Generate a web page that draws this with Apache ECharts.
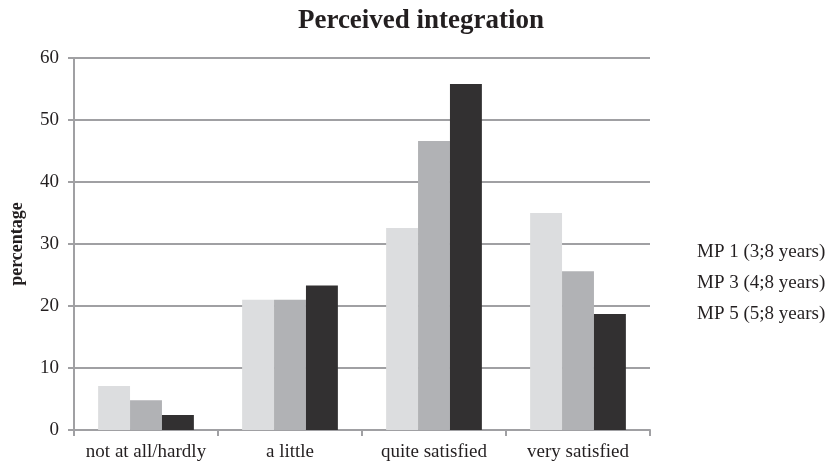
<!DOCTYPE html>
<html>
<head>
<meta charset="utf-8">
<script src="https://cdn.jsdelivr.net/npm/echarts@6/dist/echarts.min.js"></script>
<style>
  html, body { margin: 0; padding: 0; background: #fff; }
  #chart { width: 832px; height: 464px; }
</style>
</head>
<body>
<div id="chart"></div>
<script>
const categories = ['not at all/hardly', 'a little', 'quite satisfied', 'very satisfied'];
const seriesNames = ['MP 1 (3;8 years)', 'MP 3 (4;8 years)', 'MP 5 (5;8 years)'];
const mp1 = [7.1, 21.0, 32.6, 35.0];
const mp3 = [4.8, 21.0, 46.6, 25.6];
const mp5 = [2.4, 23.3, 55.8, 18.7];
const colors = ['#dcdddf', '#b1b2b5', '#323031'];

const font = '"Liberation Serif", "Times New Roman", serif';
const gridGray = '#a0a0a3';
const textColor = '#231f20';

const chart = echarts.init(document.getElementById('chart'), null, { renderer: 'canvas' });
const values = [mp1, mp3, mp5];

chart.setOption({
  animation: false,
  backgroundColor: '#ffffff',
  textStyle: { fontFamily: font, color: textColor },
  title: {
    text: 'Perceived integration',
    left: 416, top: 3,
    textAlign: 'center',
    textStyle: { fontFamily: font, fontSize: 27, fontWeight: 'bold', color: textColor }
  },
  legend: {
    orient: 'vertical',
    left: 692, top: 238,
    itemWidth: 0, itemHeight: 0,
    itemGap: 12,
    textStyle: { fontFamily: font, fontSize: 19, lineHeight: 19, color: textColor, padding: [0, 0, 0, -5] },
    data: seriesNames
  },
  grid: { left: 72, right: 182, top: 58, bottom: 34 },
  xAxis: {
    type: 'category',
    data: categories,
    axisLine: { lineStyle: { color: gridGray, width: 2 } },
    axisTick: { show: true, interval: 0, length: 6, lineStyle: { color: gridGray, width: 2 } },
    axisLabel: { interval: 0, fontFamily: font, fontSize: 19, color: textColor, margin: 13 }
  },
  yAxis: {
    type: 'value',
    min: 0, max: 60, interval: 10,
    name: 'percentage',
    nameLocation: 'middle',
    nameGap: 48,
    nameTextStyle: { fontFamily: font, fontSize: 18, fontWeight: 'bold', color: textColor },
    axisLine: { show: true, lineStyle: { color: gridGray, width: 2 } },
    axisTick: { show: true, length: 6, lineStyle: { color: gridGray, width: 2 } },
    splitLine: { lineStyle: { color: gridGray, width: 2 } },
    axisLabel: { fontFamily: font, fontSize: 19, color: textColor, margin: 15 }
  },
  series: seriesNames.map((name, i) => ({
    name,
    type: 'bar',
    data: values[i],
    itemStyle: { color: colors[i] },
    barGap: '0%',
    barCategoryGap: '33.5%',
    z: 3
  }))
});
</script>
</body>
</html>
